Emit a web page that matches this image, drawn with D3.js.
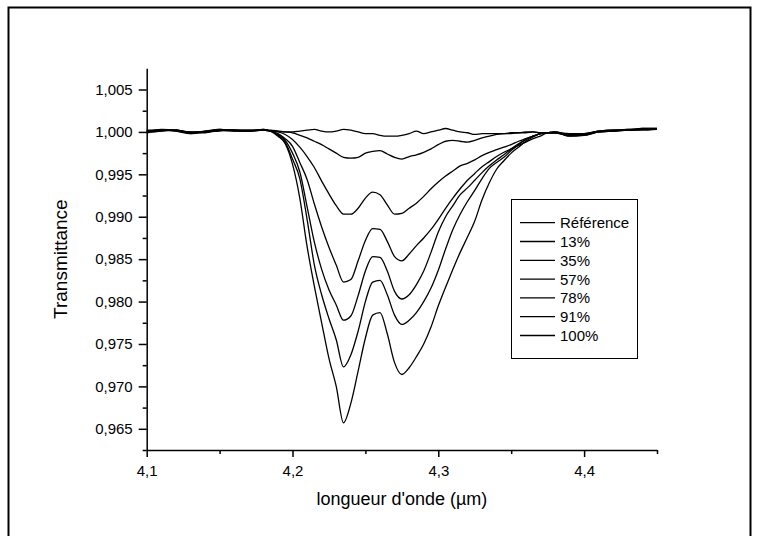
<!DOCTYPE html>
<html>

<head>
    <meta charset=utf-8 />
    <script src="https://cdn.jsdelivr.net/npm/d3@7"></script>
    <title>Transmittance</title>
    <style>
        html,
        body {
            margin: 0;
            padding: 0;
            background: #fff;
        }

        svg text {
            font-family: "Liberation Sans", Arial, sans-serif;
            fill: #000;
        }
    </style>
</head>

<body>
    <div id="svg-canvas"></div>
    <script>
        // longueur d'onde (µm)
        var wavelength = [4.100, 4.110, 4.120, 4.130, 4.140, 4.150, 4.160, 4.170, 4.180,
            4.185, 4.190, 4.195, 4.200, 4.205, 4.210, 4.215, 4.220, 4.225, 4.230, 4.235,
            4.240, 4.245, 4.250, 4.255, 4.260, 4.265, 4.270, 4.275, 4.280, 4.285, 4.290,
            4.295, 4.300, 4.305, 4.310, 4.315, 4.320, 4.325, 4.330, 4.335, 4.340, 4.345,
            4.350, 4.355, 4.360, 4.365, 4.370, 4.375,
            4.380, 4.390, 4.400, 4.410, 4.420, 4.430, 4.440, 4.450];

        var reference = [1.0001, 1.0002, 1.0001, 0.9999, 1.0000, 1.0002, 1.0001, 1.0001, 1.0002,
            1.0002, 1.0001, 1.0000, 1.0000, 1.0001, 1.0002, 1.0003, 1.0001, 1.0000, 1.0001, 1.0003,
            1.0002, 1.0000, 0.9998, 0.9998, 0.9996, 0.9995, 0.9995, 0.9996, 0.9998, 1.0001, 0.9998,
            1.0000, 1.0002, 1.0004, 1.0002, 1.0000, 0.9999, 0.9997, 0.9998, 0.9998, 0.9998, 0.9998,
            0.9998, 0.9999, 0.9999, 1.0000, 0.9999, 0.9999,
            0.9999, 0.9998, 0.9998, 1.0000, 1.0001, 1.0002, 1.0002, 1.0003];

        var pct13 = [0.9999, 1.0002, 1.0002, 1.0000, 1.0000, 1.0001, 1.0002, 1.0001, 1.0002,
            1.0001, 1.0001, 1.0000, 0.9999, 0.9996, 0.9993, 0.9989, 0.9985, 0.9980, 0.9975, 0.9970,
            0.9969, 0.9970, 0.9975, 0.9977, 0.9978, 0.9974, 0.9970, 0.9968, 0.9971, 0.9973, 0.9976,
            0.9980, 0.9985, 0.9989, 0.9990, 0.9989, 0.9988, 0.9990, 0.9993, 0.9995, 0.9997, 0.9998,
            0.9999, 0.9999, 1.0000, 1.0000, 0.9999, 0.9999,
            0.9999, 0.9997, 0.9997, 1.0000, 1.0001, 1.0002, 1.0003, 1.0004];

        var pct35 = [1.0000, 1.0001, 1.0002, 0.9999, 1.0001, 1.0002, 1.0002, 1.0002, 1.0002,
            1.0001, 1.0000, 0.9997, 0.9991, 0.9982, 0.9971, 0.9958, 0.9942, 0.9927, 0.9913, 0.9903,
            0.9903, 0.9910, 0.9922, 0.9929, 0.9926, 0.9914, 0.9903, 0.9904, 0.9910, 0.9916, 0.9924,
            0.9933, 0.9941, 0.9948, 0.9954, 0.9960, 0.9963, 0.9967, 0.9972, 0.9976, 0.9979, 0.9982,
            0.9985, 0.9989, 0.9992, 0.9995, 0.9998, 0.9999,
            1.0000, 0.9996, 0.9997, 1.0001, 1.0002, 1.0002, 1.0003, 1.0003];

        var pct57 = [1.0001, 1.0002, 1.0001, 0.9998, 1.0000, 1.0003, 1.0002, 1.0001, 1.0003,
            1.0001, 0.9998, 0.9992, 0.9983, 0.9964, 0.9944, 0.9915, 0.9888, 0.9864, 0.9843, 0.9823,
            0.9826, 0.9848, 0.9872, 0.9886, 0.9885, 0.9871, 0.9853, 0.9848, 0.9856, 0.9866, 0.9875,
            0.9885, 0.9897, 0.9910, 0.9922, 0.9933, 0.9943, 0.9951, 0.9959, 0.9965, 0.9971, 0.9976,
            0.9980, 0.9984, 0.9988, 0.9992, 0.9995, 0.9999,
            0.9999, 0.9995, 0.9996, 1.0000, 1.0001, 1.0003, 1.0003, 1.0004];

        var pct78 = [1.0000, 1.0003, 1.0002, 0.9999, 0.9999, 1.0002, 1.0001, 1.0001, 1.0002,
            1.0001, 0.9997, 0.9990, 0.9975, 0.9953, 0.9912, 0.9870, 0.9838, 0.9814, 0.9796, 0.9778,
            0.9783, 0.9807, 0.9836, 0.9853, 0.9852, 0.9836, 0.9812, 0.9803, 0.9808, 0.9820, 0.9836,
            0.9858, 0.9882, 0.9900, 0.9913, 0.9926, 0.9934, 0.9943, 0.9952, 0.9960, 0.9967, 0.9973,
            0.9980, 0.9986, 0.9991, 0.9995, 0.9998, 0.9999,
            1.0000, 0.9997, 0.9998, 1.0001, 1.0002, 1.0002, 1.0004, 1.0004];

        var pct91 = [1.0002, 1.0002, 1.0002, 1.0000, 1.0000, 1.0002, 1.0002, 1.0002, 1.0002,
            1.0001, 0.9996, 0.9988, 0.9968, 0.9945, 0.9897, 0.9843, 0.9808, 0.9780, 0.9755, 0.9723,
            0.9737, 0.9765, 0.9800, 0.9823, 0.9825, 0.9808, 0.9784, 0.9773, 0.9778, 0.9787, 0.9800,
            0.9816, 0.9837, 0.9862, 0.9885, 0.9903, 0.9918, 0.9931, 0.9945, 0.9957, 0.9964, 0.9970,
            0.9978, 0.9985, 0.9991, 0.9995, 0.9998, 0.9999,
            0.9999, 0.9996, 0.9996, 1.0000, 1.0001, 1.0002, 1.0003, 1.0003];

        var pct100 = [0.9999, 1.0001, 1.0002, 0.9998, 1.0001, 1.0003, 1.0002, 1.0001, 1.0003,
            1.0001, 0.9995, 0.9986, 0.9962, 0.9922, 0.9865, 0.9818, 0.9775, 0.9733, 0.9700, 0.9657,
            0.9680, 0.9718, 0.9757, 0.9784, 0.9787, 0.9762, 0.9728, 0.9714, 0.9722, 0.9735, 0.9750,
            0.9770, 0.9795, 0.9817, 0.9838, 0.9858, 0.9876, 0.9895, 0.9920, 0.9940, 0.9956, 0.9966,
            0.9975, 0.9982, 0.9989, 0.9994, 0.9998, 0.9999,
            1.0000, 0.9995, 0.9997, 1.0001, 1.0002, 1.0003, 1.0004, 1.0004];

        var seriesNames = ['Référence', '13%', '35%', '57%', '78%', '91%', '100%'];
        var seriesValues = [reference, pct13, pct35, pct57, pct78, pct91, pct100];

        var xTicks = [4.1, 4.2, 4.3, 4.4];
        var xMinorTicks = [4.15, 4.25, 4.35, 4.45];
        var yTicks = [0.965, 0.970, 0.975, 0.980, 0.985, 0.990, 0.995, 1.000, 1.005];
        var yMinorTicks = [0.9625, 0.9675, 0.9725, 0.9775, 0.9825, 0.9875, 0.9925, 0.9975, 1.0025];
    </script>
    <script>
        function drawChart() {
            var W = 760, H = 536;
            var mLeft = 146.7, mRight = 657, mTop = 68.3, mBottom = 450;

            var svg = d3.select('#svg-canvas').append('svg')
                .attr('width', W)
                .attr('height', H)
                .style('display', 'block');

            svg.append('rect')
                .attr('width', W).attr('height', H)
                .attr('fill', '#fff');

            // outer frame (open at the bottom)
            svg.append('rect')
                .attr('x', 8.5).attr('y', 7.5)
                .attr('width', 742).attr('height', 560)
                .attr('fill', 'none')
                .attr('stroke', '#000')
                .attr('stroke-width', 2);

            var frFormat = d3.formatLocale({ decimal: ',', thousands: ' ', grouping: [3], currency: ['', ''] });

            var x = d3.scaleLinear().domain([4.1, 4.45]).range([mLeft, mRight]);
            var y = d3.scaleLinear().domain([0.9625, 1.0075]).range([mBottom, mTop]);

            // curves
            var line = d3.line()
                .x(function (d, i) { return x(wavelength[i]); })
                .y(function (d) { return y(d); })
                .curve(d3.curveMonotoneX);

            svg.append('g')
                .attr('class', 'curves')
                .selectAll('path')
                .data(seriesValues)
                .enter().append('path')
                .attr('d', line)
                .attr('fill', 'none')
                .attr('stroke', '#000')
                .attr('stroke-width', 1.3)
                .attr('stroke-linejoin', 'round');

            // axes
            var yAxis = svg.append('g')
                .attr('transform', 'translate(' + mLeft + ',0)')
                .call(d3.axisLeft(y).tickValues(yTicks).tickSize(8).tickSizeOuter(0)
                    .tickPadding(6).tickFormat(frFormat.format('.3f')));
            yAxis.append('g')
                .call(d3.axisLeft(y).tickValues(yMinorTicks).tickSize(4).tickSizeOuter(0).tickFormat(''))
                .select('.domain').remove();

            var xAxis = svg.append('g')
                .attr('transform', 'translate(0,' + mBottom + ')')
                .call(d3.axisBottom(x).tickValues(xTicks).tickSize(7).tickSizeOuter(0)
                    .tickPadding(8).tickFormat(frFormat.format('.1f')));
            xAxis.append('g')
                .call(d3.axisBottom(x).tickValues(xMinorTicks).tickSize(4).tickSizeOuter(0).tickFormat(''))
                .select('.domain').remove();

            [xAxis, yAxis].forEach(function (ax) {
                ax.attr('font-size', 15)
                    .attr('font-family', '"Liberation Sans", Arial, sans-serif');
                ax.selectAll('.domain, .tick line')
                    .attr('stroke', '#000')
                    .attr('stroke-width', 1.5);
                ax.selectAll('.tick text')
                    .style('font-size', '15px')
                    .attr('fill', '#000');
            });

            // axis titles
            svg.append('text')
                .attr('x', (mLeft + mRight) / 2)
                .attr('y', 505)
                .attr('text-anchor', 'middle')
                .style('font-size', '18px')
                .text("longueur d'onde (µm)");

            svg.append('text')
                .attr('transform', 'translate(67,' + ((mTop + mBottom) / 2) + ') rotate(-90)')
                .attr('text-anchor', 'middle')
                .style('font-size', '19px')
                .text('Transmittance');

            // legend
            var legend = svg.append('g').attr('transform', 'translate(511.5,199.5)');
            legend.append('rect')
                .attr('width', 126).attr('height', 159)
                .attr('fill', '#fff')
                .attr('stroke', '#000')
                .attr('stroke-width', 1);

            var rows = legend.selectAll('g.row')
                .data(seriesNames)
                .enter().append('g')
                .attr('class', 'row')
                .attr('transform', function (d, i) { return 'translate(0,' + (23.2 + i * 18.8) + ')'; });
            rows.append('line')
                .attr('x1', 8.5).attr('x2', 43.5)
                .attr('stroke', '#000')
                .attr('stroke-width', 1.3);
            rows.append('text')
                .attr('x', 48.5)
                .attr('dy', '0.36em')
                .style('font-size', '15px')
                .text(function (d) { return d; });
        }

        drawChart();
    </script>
</body>

</html>
